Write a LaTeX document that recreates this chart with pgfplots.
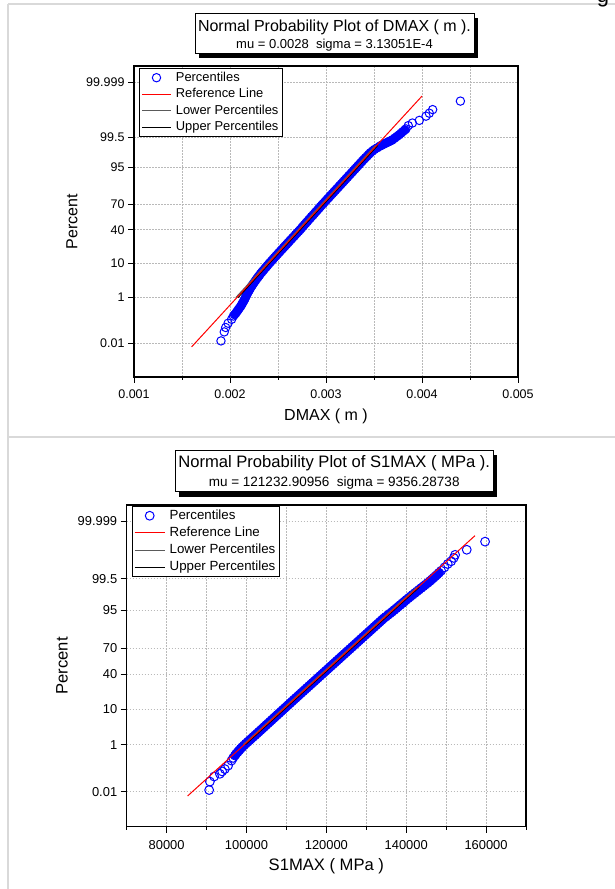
\documentclass[border=0pt]{standalone}
\usepackage{fontspec}
\setmainfont{Liberation Sans}
\usepackage{pgfplots}
\usepackage{pgfplotstable}
\pgfplotsset{compat=1.18}
\definecolor{pblue}{RGB}{0,0,255}
\definecolor{pred}{RGB}{255,0,0}
\definecolor{cellgray}{RGB}{217,217,217}
\definecolor{gridgray}{RGB}{185,185,185}
\definecolor{lowgray}{RGB}{90,90,90}

% DMAX: dense central part of the percentiles
\pgfplotstableread{
x z
0.002047 -2.85
0.002061 -2.80
0.002073 -2.75
0.002085 -2.70
0.002097 -2.65
0.002110 -2.60
0.002120 -2.55
0.002129 -2.50
0.002139 -2.45
0.002149 -2.40
0.002157 -2.35
0.002165 -2.30
0.002173 -2.25
0.002181 -2.20
0.002191 -2.15
0.002201 -2.10
0.002210 -2.05
0.002220 -2.00
0.002232 -1.95
0.002243 -1.90
0.002255 -1.85
0.002267 -1.80
0.002279 -1.75
0.002292 -1.70
0.002305 -1.65
0.002317 -1.60
0.002331 -1.55
0.002346 -1.50
0.002360 -1.45
0.002374 -1.40
0.002389 -1.35
0.002403 -1.30
0.002418 -1.25
0.002434 -1.20
0.002449 -1.15
0.002464 -1.10
0.002480 -1.05
0.002495 -1.00
0.002511 -0.95
0.002526 -0.90
0.002542 -0.85
0.002558 -0.80
0.002573 -0.75
0.002589 -0.70
0.002605 -0.65
0.002620 -0.60
0.002636 -0.55
0.002652 -0.50
0.002668 -0.45
0.002683 -0.40
0.002699 -0.35
0.002715 -0.30
0.002731 -0.25
0.002746 -0.20
0.002760 -0.15
0.002775 -0.10
0.002790 -0.05
0.002805 0.00
0.002820 0.05
0.002835 0.10
0.002850 0.15
0.002866 0.20
0.002881 0.25
0.002896 0.30
0.002911 0.35
0.002926 0.40
0.002941 0.45
0.002956 0.50
0.002972 0.55
0.002988 0.60
0.003003 0.65
0.003019 0.70
0.003035 0.75
0.003050 0.80
0.003066 0.85
0.003082 0.90
0.003097 0.95
0.003113 1.00
0.003129 1.05
0.003144 1.10
0.003160 1.15
0.003176 1.20
0.003191 1.25
0.003207 1.30
0.003223 1.35
0.003238 1.40
0.003254 1.45
0.003270 1.50
0.003285 1.55
0.003301 1.60
0.003317 1.65
0.003332 1.70
0.003348 1.75
0.003364 1.80
0.003379 1.85
0.003395 1.90
0.003412 1.95
0.003429 2.00
0.003445 2.05
0.003462 2.10
0.003483 2.15
0.003504 2.20
0.003532 2.25
0.003560 2.30
0.003575 2.325
0.003591 2.35
0.003608 2.375
0.003626 2.40
0.003644 2.425
0.003662 2.45
0.003679 2.475
0.003694 2.50
0.003716 2.55
0.003739 2.60
0.003762 2.65
0.003782 2.70
0.003801 2.75
0.003822 2.80
}\dmaxmid

% DMAX: isolated tail points
\pgfplotstableread{
x z
0.001906 -3.65
0.001940 -3.375
0.001955 -3.24
0.001980 -3.11
0.002017 -2.99
0.002035 -2.89
0.003833 2.83
0.003857 2.93
0.003900 3.01
0.003972 3.09
0.004042 3.22
0.004076 3.31
0.004111 3.42
0.004400 3.68
}\dmaxtail

% S1MAX: dense central part
\pgfplotstableread{
x z
97100 -2.65
97407 -2.60
97774 -2.55
98142 -2.50
98535 -2.45
98928 -2.40
99371 -2.35
99813 -2.30
100281 -2.25
100749 -2.20
101217 -2.15
101685 -2.10
102153 -2.05
102620 -2.00
103083 -1.95
103546 -1.90
104009 -1.85
104472 -1.80
104934 -1.75
105397 -1.70
105860 -1.65
106323 -1.60
106786 -1.55
107248 -1.50
107711 -1.45
108174 -1.40
108637 -1.35
109100 -1.30
109563 -1.25
110025 -1.20
110488 -1.15
110951 -1.10
111414 -1.05
111877 -1.00
112344 -0.95
112812 -0.90
113280 -0.85
113748 -0.80
114216 -0.75
114684 -0.70
115151 -0.65
115619 -0.60
116087 -0.55
116555 -0.50
117023 -0.45
117490 -0.40
117958 -0.35
118426 -0.30
118894 -0.25
119362 -0.20
119830 -0.15
120297 -0.10
120765 -0.05
121233 0.00
121701 0.05
122169 0.10
122636 0.15
123104 0.20
123572 0.25
124040 0.30
124508 0.35
124975 0.40
125443 0.45
125911 0.50
126379 0.55
126847 0.60
127315 0.65
127782 0.70
128250 0.75
128718 0.80
129186 0.85
129654 0.90
130121 0.95
130589 1.00
131057 1.05
131525 1.10
131993 1.15
132460 1.20
132928 1.25
133396 1.30
133864 1.35
134332 1.40
134875 1.45
135417 1.50
135960 1.55
136503 1.60
137008 1.65
137514 1.70
138018 1.75
138524 1.80
139029 1.85
139535 1.90
140040 1.95
140546 2.00
141080 2.05
141614 2.10
142149 2.15
142684 2.20
143218 2.25
143752 2.30
144294 2.35
144835 2.40
145377 2.45
145883 2.50
146367 2.55
146849 2.60
147317 2.65
147775 2.70
148213 2.75
}\smid

% S1MAX: isolated tail points
\pgfplotstableread{
x z
90650 -3.67
90830 -3.42
91900 -3.27
93330 -3.19
93900 -3.12
94580 -3.05
95400 -2.95
96250 -2.80
96670 -2.72
148750 2.81
149580 2.91
150400 3.01
151250 3.09
151900 3.19
152250 3.28
155160 3.43
159750 3.67
}\stail

\pgfplotsset{
  probaxis/.style={
    scale only axis,
    ymin=-4.753, ymax=4.753,
    ytick={-3.719,-2.3263,-1.2816,-0.2533,0.5244,1.6449,2.5758,4.2649},
    yticklabels={0.01,1,10,40,70,95,99.5,99.999},
    scaled x ticks=false, scaled y ticks=false,
    grid=both,
    grid style={gridgray, line width=0.7bp, dash pattern=on 1.5bp off 1.5bp},
    minor grid style={gridgray, line width=0.7bp, dash pattern=on 1.5bp off 1.5bp},
    major grid style={gridgray, line width=0.7bp, dash pattern=on 1.5bp off 1.5bp},
    tick align=outside,
    tick pos=left,
    major tick length=6bp,
    minor tick length=3bp,
    tick style={black, line width=0.8bp},
    axis line style={black, line width=1.2bp},
    legend cell align=left,
    clip mode=individual,
  }
}

\begin{document}
\begin{tikzpicture}[x=1bp,y=1bp]
\path[use as bounding box, fill=white] (0bp,0bp) rectangle (615bp,889bp);

% table cell borders of the screenshot
\draw[cellgray, line width=2bp] (8bp,0bp) -- (8bp,885bp);
\draw[cellgray, line width=2bp] (8bp,885bp) -- (615bp,885bp);
\draw[cellgray, line width=2bp] (8bp,452bp) -- (615bp,452bp);
\node[anchor=base, inner sep=0pt, font=\fontsize{22bp}{24bp}\selectfont] at (603bp,886bp) {g};

% ---------------- Panel 1: DMAX ----------------
\begin{axis}[probaxis,
  at={(134bp,512bp)}, anchor=south west,
  width=384bp, height=311bp,
  xmin=0.001, xmax=0.005,
  xtick={0.001,0.002,0.003,0.004,0.005},
  xticklabels={0.001,0.002,0.003,0.004,0.005},
  minor xtick={0.0015,0.0025,0.0035,0.0045},
  tick label style={font=\fontsize{12.5bp}{14bp}\selectfont},
  xticklabel style={anchor=base, yshift=-16bp},
  yticklabel style={anchor=east},
  xlabel={DMAX ( m )},
  ylabel={Percent},
  every axis x label/.style={at={(rel axis cs:0.5,0)}, anchor=center, yshift=-39bp, font=\fontsize{16bp}{18bp}\selectfont},
  every axis y label/.style={at={(rel axis cs:0,0.5)}, xshift=-62bp, rotate=90, anchor=center, font=\fontsize{16bp}{18bp}\selectfont},
  legend image code/.code={\draw[mark repeat=2,mark phase=2,#1] plot coordinates {(0bp,0bp) (14.5bp,0bp) (29bp,0bp)};},
  legend style={at={(rel axis cs:0,1)}, anchor=north west, xshift=5bp, yshift=-2.3bp,
    draw=black, line width=0.8bp, fill=white, inner xsep=2bp, inner ysep=0.75bp,
    column sep=2.3bp, row sep=0bp,
    nodes={inner xsep=2bp, inner ysep=2.25bp, text height=9.5bp, text depth=2.5bp,
      font=\fontsize{12.9bp}{14bp}\selectfont}},
]
\addplot[pblue, mark=none, line width=8bp, line join=round, line cap=round, forget plot] table[x=x, y=z] {\dmaxmid};
\addplot[pblue, only marks, mark=o, mark size=4.2bp, mark options={line width=1bp}, forget plot] table[x=x, y=z] {\dmaxmid};
\addplot[pblue, only marks, mark=o, mark size=4.2bp, mark options={line width=1bp}, forget plot] table[x=x, y=z] {\dmaxtail};
\addplot[lowgray, line width=1bp, forget plot] coordinates {(0.002060,-2.3263) (0.003516,2.3263)};
\addplot[black, line width=1bp, forget plot] coordinates {(0.002084,-2.3263) (0.003540,2.3263)};
\addplot[pred, line width=1bp, forget plot] coordinates {(0.0016,-3.8332) (0.0040,3.8332)};

\addlegendimage{/tikz/only marks, mark=o, pblue, mark size=4.2bp, mark options={line width=1bp}}
\addlegendentry{Percentiles}
\addlegendimage{pred, line width=1bp}
\addlegendentry{Reference Line}
\addlegendimage{lowgray, line width=1.2bp}
\addlegendentry{Lower Percentiles}
\addlegendimage{black, line width=1.2bp}
\addlegendentry{Upper Percentiles}
\end{axis}

% title box 1
\fill[black] (199bp,830.7bp) rectangle (478bp,870.7bp);
\draw[black, line width=0.8bp, fill=white] (195bp,835.7bp) rectangle (474bp,875.7bp);
\node[anchor=base, inner sep=0pt, font=\fontsize{16bp}{18bp}\selectfont] at (334.5bp,857.3bp) {Normal Probability Plot of DMAX ( m ).};
\node[anchor=base, inner sep=0pt, font=\fontsize{13bp}{15bp}\selectfont] at (334.5bp,840.3bp) {mu = 0.0028\ \ sigma = 3.13051E-4};

% ---------------- Panel 2: S1MAX ----------------
\begin{axis}[probaxis,
  at={(126.7bp,62.3bp)}, anchor=south west,
  width=399.3bp, height=321.7bp,
  xmin=70000, xmax=170000,
  xtick={80000,100000,120000,140000,160000},
  xticklabels={80000,100000,120000,140000,160000},
  minor xtick={70000,90000,110000,130000,150000,170000},
  tick label style={font=\fontsize{12.9bp}{14bp}\selectfont},
  xticklabel style={anchor=base, yshift=-16.5bp},
  yticklabel style={anchor=east},
  xlabel={S1MAX ( MPa )},
  ylabel={Percent},
  every axis x label/.style={at={(rel axis cs:0.5,0)}, anchor=center, yshift=-39.3bp, font=\fontsize{16.6bp}{18bp}\selectfont},
  every axis y label/.style={at={(rel axis cs:0,0.5)}, xshift=-64.7bp, rotate=90, anchor=center, font=\fontsize{16.6bp}{18bp}\selectfont},
  legend image code/.code={\draw[mark repeat=2,mark phase=2,#1] plot coordinates {(0bp,0bp) (15bp,0bp) (30bp,0bp)};},
  legend style={at={(rel axis cs:0,1)}, anchor=north west, xshift=5bp, yshift=-1bp,
    draw=black, line width=0.8bp, fill=white, inner xsep=2bp, inner ysep=0.75bp,
    column sep=2.4bp, row sep=0bp,
    nodes={inner xsep=2bp, inner ysep=2.4bp, text height=9.8bp, text depth=2.6bp,
      font=\fontsize{13.3bp}{14.5bp}\selectfont}},
]
\addplot[pblue, mark=none, line width=8.3bp, line join=round, line cap=round, forget plot] table[x=x, y=z] {\smid};
\addplot[pblue, only marks, mark=o, mark size=4.4bp, mark options={line width=1bp}, forget plot] table[x=x, y=z] {\smid};
\addplot[pblue, only marks, mark=o, mark size=4.4bp, mark options={line width=1bp}, forget plot] table[x=x, y=z] {\stail};
\addplot[lowgray, line width=1bp, forget plot] coordinates {(99170,-2.3263) (142696,2.3263)};
\addplot[black, line width=1bp, forget plot] coordinates {(99770,-2.3263) (143296,2.3263)};
\addplot[pred, line width=1bp, forget plot] coordinates {(85250,-3.8457) (157216,3.8457)};

\addlegendimage{/tikz/only marks, mark=o, pblue, mark size=4.4bp, mark options={line width=1bp}}
\addlegendentry{Percentiles}
\addlegendimage{pred, line width=1bp}
\addlegendentry{Reference Line}
\addlegendimage{lowgray, line width=1.2bp}
\addlegendentry{Lower Percentiles}
\addlegendimage{black, line width=1.2bp}
\addlegendentry{Upper Percentiles}
\end{axis}

% title box 2
\fill[black] (179bp,392.3bp) rectangle (497.3bp,434bp);
\draw[black, line width=0.8bp, fill=white] (175bp,397.3bp) rectangle (493.3bp,439bp);
\node[anchor=base, inner sep=0pt, font=\fontsize{16.6bp}{18bp}\selectfont] at (334.2bp,421.7bp) {Normal Probability Plot of S1MAX ( MPa ).};
\node[anchor=base, inner sep=0pt, font=\fontsize{13.5bp}{15bp}\selectfont] at (334.2bp,402.3bp) {mu = 121232.90956\ \ sigma = 9356.28738};
\end{tikzpicture}
\end{document}
